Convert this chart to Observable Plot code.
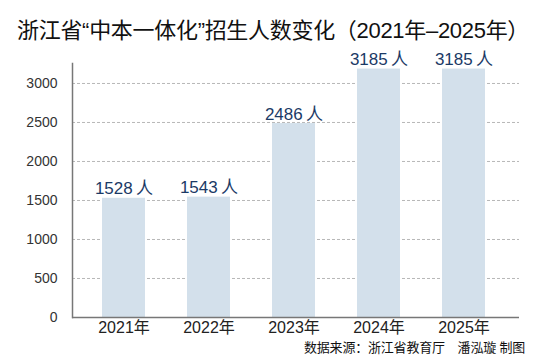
<!DOCTYPE html>
<html>
<head>
<meta charset="utf-8">
<script src="https://cdn.jsdelivr.net/npm/d3@7"></script>
<script src="https://cdn.jsdelivr.net/npm/@observablehq/plot@0.6"></script>
<style>
  body { margin: 0; background: #fff; }
  #wrap { width: 550px; height: 355px; overflow: hidden; font-family: "Liberation Sans", "Noto Sans CJK SC", sans-serif; }
  #title { height: 40px; box-sizing: border-box; padding: 20px 0 0 17px; font-size: 22px; line-height: 22px; color: #111; white-space: nowrap; letter-spacing: -0.3px; }
  #caption { height: 15px; font-size: 13px; line-height: 15px; text-align: right; padding-right: 25px; color: #111; white-space: nowrap; letter-spacing: -0.2px; }
  #chart svg { display: block; }
</style>
</head>
<body>
<div id="wrap">
  <div id="title">浙江省“中本一体化”招生人数变化（2021年–2025年）</div>
  <div id="chart"></div>
  <div id="caption">数据来源：浙江省教育厅　潘泓璇 制图</div>
</div>
<script>
const years = ["2021年", "2022年", "2023年", "2024年", "2025年"];
const counts = [1528, 1543, 2486, 3185, 3185];
const yTicks = [0, 500, 1000, 1500, 2000, 2500, 3000];
const unit = "人";

const data = years.map((y, i) => ({year: y, value: counts[i]}));

const chart = Plot.plot({
  width: 550,
  height: 300,
  marginLeft: 72,
  marginRight: 31,
  marginTop: 23,
  marginBottom: 23,
  style: {fontFamily: "Liberation Sans, Noto Sans CJK SC, sans-serif", background: "#fff", overflow: "visible"},
  x: {domain: years, paddingInner: 0.5, paddingOuter: 0.355, align: 0.46, label: null},
  y: {domain: [0, 3256], label: null},
  marks: [
    Plot.gridY(yTicks, {stroke: "#b8b8b8", strokeOpacity: 1, strokeDasharray: "3,2"}),
    Plot.barY(data, {x: "year", y: "value", fill: "#d3e0eb"}),
    Plot.text(data, {x: "year", y: "value", text: d => d.value + "\u2009" + unit, dy: -4, lineAnchor: "bottom", fill: "#1b3a66", fontSize: 17}),
    Plot.axisY(yTicks, {tickSize: 0, tickPadding: 15, fontSize: 14, fill: "#333", tickFormat: d => String(d), label: null}),
    Plot.axisX({tickSize: 0, tickPadding: 4, fontSize: 16, fill: "#222", label: null}),
    Plot.frame({anchor: "left", stroke: "#777", strokeWidth: 1.5}),
    Plot.ruleY([0], {stroke: "#777", strokeWidth: 1.5})
  ]
});
document.getElementById("chart").appendChild(chart);
</script>
</body>
</html>
